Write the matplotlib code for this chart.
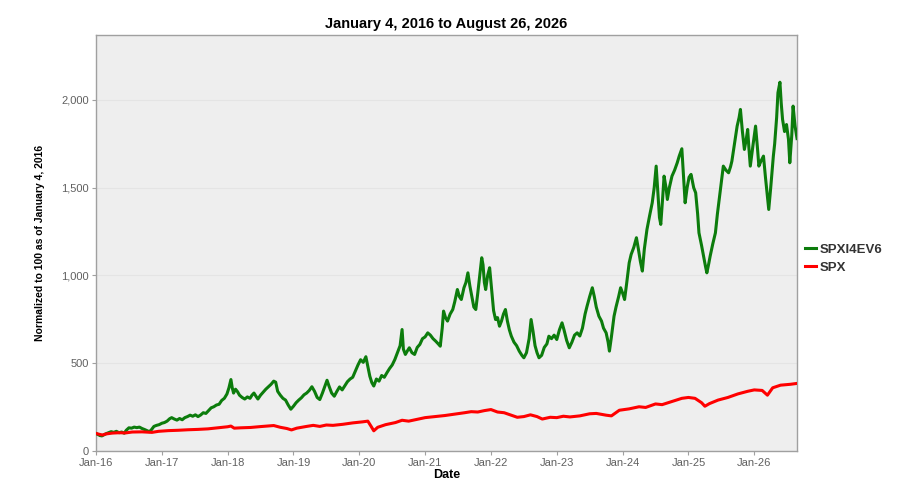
import matplotlib
matplotlib.use("Agg")
import matplotlib.pyplot as plt
from matplotlib.ticker import FuncFormatter

plt.rcParams['font.family'] = ['Liberation Sans', 'DejaVu Sans']

# decimal-year positions and normalised values
spxi_years = [
    2016.00, 2016.03, 2016.06, 2016.09, 2016.12, 2016.15, 2016.19, 2016.23, 2016.27, 2016.31,
    2016.35, 2016.39, 2016.43, 2016.46, 2016.50, 2016.54, 2016.58, 2016.62, 2016.66, 2016.70,
    2016.74, 2016.78, 2016.81, 2016.84, 2016.88, 2016.92, 2016.96, 2017.00, 2017.04, 2017.08,
    2017.12, 2017.15, 2017.19, 2017.23, 2017.27, 2017.31, 2017.35, 2017.39, 2017.43, 2017.47,
    2017.51, 2017.55, 2017.59, 2017.63, 2017.67, 2017.71, 2017.75, 2017.79, 2017.83, 2017.87,
    2017.91, 2017.95, 2017.99, 2018.02, 2018.05, 2018.07, 2018.09, 2018.12, 2018.15, 2018.18,
    2018.22, 2018.26, 2018.30, 2018.34, 2018.37, 2018.40, 2018.43, 2018.46, 2018.50, 2018.54,
    2018.58, 2018.62, 2018.66, 2018.70, 2018.73, 2018.76, 2018.80, 2018.84, 2018.88, 2018.92,
    2018.96, 2019.00, 2019.04, 2019.08, 2019.12, 2019.16, 2019.20, 2019.24, 2019.28, 2019.32,
    2019.36, 2019.40, 2019.44, 2019.48, 2019.51, 2019.54, 2019.58, 2019.62, 2019.66, 2019.70,
    2019.74, 2019.78, 2019.82, 2019.86, 2019.90, 2019.94, 2019.98, 2020.02, 2020.06, 2020.10,
    2020.13, 2020.16, 2020.19, 2020.22, 2020.26, 2020.30, 2020.34, 2020.38, 2020.42, 2020.46,
    2020.50, 2020.54, 2020.58, 2020.62, 2020.65, 2020.67, 2020.70, 2020.73, 2020.76, 2020.80,
    2020.84, 2020.88, 2020.92, 2020.96, 2021.00, 2021.04, 2021.08, 2021.12, 2021.16, 2021.20,
    2021.23, 2021.26, 2021.28, 2021.31, 2021.34, 2021.38, 2021.42, 2021.45, 2021.49, 2021.52,
    2021.55, 2021.59, 2021.62, 2021.65, 2021.68, 2021.71, 2021.74, 2021.77, 2021.80, 2021.83,
    2021.86, 2021.88, 2021.90, 2021.92, 2021.95, 2021.98, 2022.01, 2022.04, 2022.07, 2022.10,
    2022.13, 2022.16, 2022.19, 2022.22, 2022.25, 2022.28, 2022.31, 2022.35, 2022.39, 2022.43,
    2022.47, 2022.50, 2022.54, 2022.58, 2022.61, 2022.64, 2022.67, 2022.70, 2022.73, 2022.77,
    2022.81, 2022.85, 2022.88, 2022.92, 2022.96, 2023.00, 2023.04, 2023.08, 2023.11, 2023.15,
    2023.19, 2023.23, 2023.27, 2023.31, 2023.35, 2023.39, 2023.43, 2023.46, 2023.50, 2023.54,
    2023.57, 2023.60, 2023.64, 2023.68, 2023.71, 2023.75, 2023.78, 2023.80, 2023.83, 2023.87,
    2023.90, 2023.94, 2023.97, 2024.00, 2024.03, 2024.06, 2024.10, 2024.13, 2024.17, 2024.21,
    2024.24, 2024.27, 2024.30, 2024.33, 2024.37, 2024.41, 2024.45, 2024.48, 2024.51, 2024.54,
    2024.56, 2024.58, 2024.61, 2024.63, 2024.66, 2024.68, 2024.71, 2024.75, 2024.79, 2024.83,
    2024.86, 2024.90, 2024.92, 2024.95, 2024.98, 2025.01, 2025.04, 2025.08, 2025.11, 2025.14,
    2025.16, 2025.20, 2025.23, 2025.26, 2025.28, 2025.31, 2025.33, 2025.37, 2025.41, 2025.44,
    2025.48, 2025.51, 2025.53, 2025.57, 2025.61, 2025.64, 2025.66, 2025.70, 2025.74, 2025.77,
    2025.79, 2025.82, 2025.85, 2025.88, 2025.90, 2025.92, 2025.94, 2025.98, 2026.02, 2026.05,
    2026.07, 2026.10, 2026.14, 2026.17, 2026.20, 2026.22, 2026.25, 2026.29, 2026.31, 2026.34,
    2026.36, 2026.39, 2026.41, 2026.43, 2026.46, 2026.49, 2026.52, 2026.54, 2026.57, 2026.59,
    2026.62, 2026.65,
]
spxi_vals = [
    100, 94, 88, 86, 92, 98, 104, 110, 106, 112,
    104, 108, 101, 118, 132, 130, 136, 133, 136, 128,
    122, 115, 110, 120, 140, 146, 150, 158, 162, 170,
    184, 190, 182, 176, 185, 178, 190, 196, 204, 198,
    206, 196, 205, 218, 214, 230, 246, 252, 262, 266,
    288, 300, 325, 360, 407, 360, 330, 352, 338, 318,
    305, 296, 308, 300, 318, 330, 312, 296, 318, 335,
    352, 366, 380, 398, 392, 340, 318, 300, 290, 262,
    238, 255, 275, 290, 303, 320, 330, 345, 366, 340,
    305, 293, 330, 372, 403, 370, 330, 312, 340, 365,
    348, 372, 395, 410, 420, 455, 490, 520, 505, 537,
    480, 426, 390, 370, 410, 398, 430, 420, 446, 470,
    490, 521, 560, 600, 692, 580, 550, 570, 588, 560,
    550, 590, 607, 640, 650, 673, 660, 640, 626, 610,
    597, 700, 797, 760, 740, 780, 806, 850, 920, 880,
    863, 930, 960, 1015, 940, 880, 820, 806, 900, 1000,
    1101, 1060, 960, 920, 1000, 1044, 920, 800, 749, 760,
    711, 740, 780, 806, 740, 690, 654, 620, 600, 569,
    545, 531, 560, 640, 749, 680, 600, 560, 531, 545,
    590, 610, 654, 640, 660, 635, 690, 730, 690, 630,
    588, 620, 660, 673, 655, 700, 780, 825, 880, 930,
    880, 820, 768, 740, 700, 673, 620, 569, 650, 768,
    820, 880, 930, 900, 863, 950, 1072, 1120, 1160, 1215,
    1150, 1080, 1025, 1150, 1262, 1340, 1414, 1500, 1623, 1450,
    1330, 1291, 1450, 1566, 1500, 1433, 1500, 1566, 1600, 1642,
    1680, 1722, 1600, 1414, 1500, 1560, 1576, 1500, 1471, 1350,
    1243, 1170, 1110, 1050, 1015, 1070, 1110, 1180, 1243, 1350,
    1471, 1560, 1623, 1600, 1585, 1620, 1651, 1750, 1851, 1900,
    1946, 1820, 1718, 1780, 1832, 1720, 1623, 1740, 1851, 1720,
    1623, 1650, 1680, 1560, 1450, 1376, 1500, 1680, 1750, 1900,
    2041, 2101, 1980, 1889, 1820, 1860, 1775, 1642, 1800, 1965,
    1850, 1780,
]

spx_years = [
    2016.00, 2016.05, 2016.10, 2016.15, 2016.25, 2016.35, 2016.45, 2016.55, 2016.70, 2016.85,
    2016.95, 2017.10, 2017.25, 2017.40, 2017.55, 2017.70, 2017.85, 2018.00, 2018.05, 2018.10,
    2018.20, 2018.35, 2018.50, 2018.70, 2018.80, 2018.90, 2018.97, 2019.05, 2019.20, 2019.30,
    2019.40, 2019.50, 2019.60, 2019.75, 2019.90, 2020.05, 2020.13, 2020.18, 2020.22, 2020.28,
    2020.40, 2020.55, 2020.65, 2020.75, 2020.85, 2021.00, 2021.15, 2021.30, 2021.45, 2021.60,
    2021.70, 2021.80, 2021.90, 2022.00, 2022.10, 2022.20, 2022.30, 2022.40, 2022.50, 2022.60,
    2022.70, 2022.78, 2022.90, 2023.00, 2023.10, 2023.20, 2023.35, 2023.50, 2023.60, 2023.75,
    2023.83, 2023.95, 2024.10, 2024.25, 2024.35, 2024.50, 2024.60, 2024.75, 2024.90, 2025.00,
    2025.10, 2025.20, 2025.25, 2025.32, 2025.45, 2025.60, 2025.75, 2025.90, 2026.00, 2026.12,
    2026.20, 2026.28, 2026.40, 2026.55, 2026.65,
]
spx_vals = [
    100, 95, 91, 97, 102, 104, 103, 108, 109, 106,
    112, 116, 118, 121, 123, 126, 132, 138, 142, 130,
    132, 134, 139, 145, 135, 128, 120, 130, 140, 146,
    140, 148, 146, 152, 160, 166, 170, 140, 115, 135,
    150, 162, 175, 170, 178, 190, 196, 202, 210, 218,
    224, 222, 230, 236, 222, 218, 205, 192, 196, 206,
    196, 182, 192, 190, 198, 194, 200, 212, 214, 204,
    200, 232, 240, 252, 248, 268, 264, 282, 300, 305,
    300, 275, 255, 270, 290, 305, 325, 340, 348, 345,
    318, 360, 375, 380, 385,
]

x_ticks = list(range(2016, 2027))
x_labels = ['Jan-16', 'Jan-17', 'Jan-18', 'Jan-19', 'Jan-20', 'Jan-21',
            'Jan-22', 'Jan-23', 'Jan-24', 'Jan-25', 'Jan-26']
y_ticks = [0, 500, 1000, 1500, 2000]

fig = plt.figure(figsize=(9.08, 4.91), dpi=100)
ax = fig.add_axes([0.1057, 0.0815, 0.7721, 0.8472])
ax.set_facecolor('#eeeeee')

ax.plot(spxi_years, spxi_vals, color='#0c7c0c', lw=2.2, label='SPXI4EV6', zorder=3)
ax.plot(spx_years, spx_vals, color='#ff0000', lw=2.2, label='SPX', zorder=4)

ax.set_xlim(2016.0, 2026.65)
ax.set_ylim(0, 2370)
ax.set_xticks(x_ticks)
ax.set_xticklabels(x_labels)
ax.set_yticks(y_ticks)
ax.yaxis.set_major_formatter(FuncFormatter(lambda v, p: '{:,.0f}'.format(v)))
ax.grid(axis='y', color='#e4e4e4', lw=0.8)
ax.set_axisbelow(True)

for s in ax.spines.values():
    s.set_color('#a0a0a0')
    s.set_linewidth(1.0)
ax.tick_params(axis='both', colors='#a0a0a0', labelcolor='#606060', labelsize=8,
               length=3, width=0.8, pad=2)

ax.set_title('January 4, 2016 to August 26, 2026', fontsize=10.5, fontweight='bold', pad=5)
ax.set_xlabel('Date', fontsize=9, fontweight='bold', labelpad=1)
ax.set_ylabel('Normalized to 100 as of January 4, 2016', fontsize=7.5, fontweight='bold', labelpad=12)

fig.legend(loc='center left', bbox_to_anchor=(0.874, 0.473), frameon=False,
           handlelength=0.8, handletextpad=0.25, labelspacing=0.45,
           prop={'size': 9.5, 'weight': 'bold'}, labelcolor='#333333')

fig.savefig('out.png', dpi=100)
